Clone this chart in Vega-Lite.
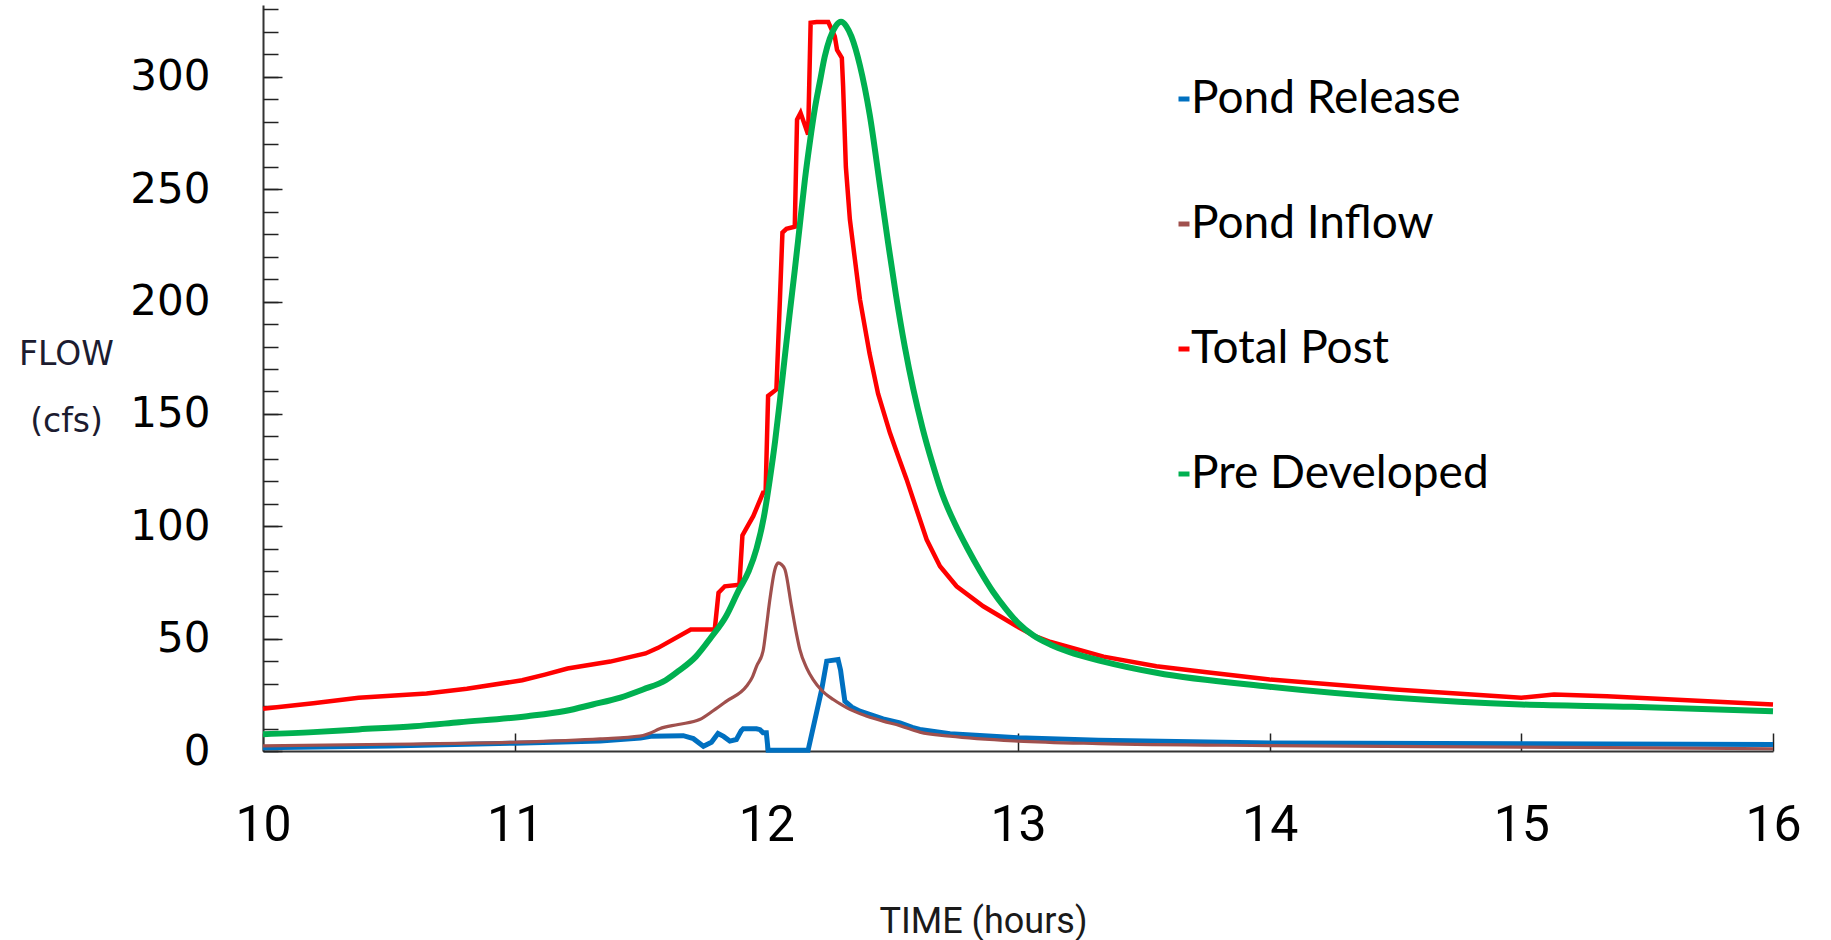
{
  "$schema": "https://vega.github.io/schema/vega-lite/v6.json",
  "width": 1510,
  "height": 746,
  "autosize": "none",
  "padding": {"left": 263, "top": 5, "right": 58, "bottom": 189},
  "background": "white",
  "config": {"view": {"stroke": null}},
  "data": {"values": [
    {"series":"Pond Release","time":10.0,"flow":1.5},
    {"series":"Pond Release","time":10.5,"flow":2.2},
    {"series":"Pond Release","time":11.0,"flow":3.5},
    {"series":"Pond Release","time":11.34,"flow":4.4},
    {"series":"Pond Release","time":11.5,"flow":5.8},
    {"series":"Pond Release","time":11.54,"flow":6.6},
    {"series":"Pond Release","time":11.67,"flow":6.8},
    {"series":"Pond Release","time":11.71,"flow":5.5},
    {"series":"Pond Release","time":11.75,"flow":2.1},
    {"series":"Pond Release","time":11.782,"flow":3.9},
    {"series":"Pond Release","time":11.808,"flow":7.8},
    {"series":"Pond Release","time":11.83,"flow":6.5},
    {"series":"Pond Release","time":11.855,"flow":4.4},
    {"series":"Pond Release","time":11.881,"flow":5.1},
    {"series":"Pond Release","time":11.9,"flow":9.0},
    {"series":"Pond Release","time":11.908,"flow":9.9},
    {"series":"Pond Release","time":11.961,"flow":9.9},
    {"series":"Pond Release","time":11.975,"flow":9.5},
    {"series":"Pond Release","time":11.987,"flow":8.1},
    {"series":"Pond Release","time":12.0,"flow":8.1},
    {"series":"Pond Release","time":12.007,"flow":0.3},
    {"series":"Pond Release","time":12.166,"flow":0.3},
    {"series":"Pond Release","time":12.22,"flow":27.4},
    {"series":"Pond Release","time":12.24,"flow":40.0},
    {"series":"Pond Release","time":12.285,"flow":40.7},
    {"series":"Pond Release","time":12.295,"flow":36.0},
    {"series":"Pond Release","time":12.3,"flow":31.8},
    {"series":"Pond Release","time":12.312,"flow":22.2},
    {"series":"Pond Release","time":12.34,"flow":19.5},
    {"series":"Pond Release","time":12.372,"flow":17.7},
    {"series":"Pond Release","time":12.464,"flow":14.3},
    {"series":"Pond Release","time":12.531,"flow":12.5},
    {"series":"Pond Release","time":12.58,"flow":10.5},
    {"series":"Pond Release","time":12.61,"flow":9.6},
    {"series":"Pond Release","time":12.73,"flow":7.7},
    {"series":"Pond Release","time":13.0,"flow":5.9},
    {"series":"Pond Release","time":13.32,"flow":4.8},
    {"series":"Pond Release","time":14.0,"flow":3.6},
    {"series":"Pond Release","time":15.0,"flow":3.2},
    {"series":"Pond Release","time":16.0,"flow":2.9},

    {"series":"Pond Inflow","time":10.0,"flow":2.3},
    {"series":"Pond Inflow","time":10.5,"flow":3.0},
    {"series":"Pond Inflow","time":11.0,"flow":3.9},
    {"series":"Pond Inflow","time":11.34,"flow":5.4},
    {"series":"Pond Inflow","time":11.497,"flow":6.6},
    {"series":"Pond Inflow","time":11.54,"flow":8.0},
    {"series":"Pond Inflow","time":11.576,"flow":9.9},
    {"series":"Pond Inflow","time":11.65,"flow":11.8},
    {"series":"Pond Inflow","time":11.735,"flow":14.0},
    {"series":"Pond Inflow","time":11.79,"flow":18.0},
    {"series":"Pond Inflow","time":11.842,"flow":22.2},
    {"series":"Pond Inflow","time":11.921,"flow":28.8},
    {"series":"Pond Inflow","time":11.945,"flow":33.0},
    {"series":"Pond Inflow","time":11.961,"flow":37.7},
    {"series":"Pond Inflow","time":11.987,"flow":44.5},
    {"series":"Pond Inflow","time":12.0,"flow":55.0},
    {"series":"Pond Inflow","time":12.014,"flow":67.4},
    {"series":"Pond Inflow","time":12.034,"flow":80.8},
    {"series":"Pond Inflow","time":12.047,"flow":83.7},
    {"series":"Pond Inflow","time":12.06,"flow":83.0},
    {"series":"Pond Inflow","time":12.074,"flow":80.8},
    {"series":"Pond Inflow","time":12.1,"flow":64.4},
    {"series":"Pond Inflow","time":12.12,"flow":52.0},
    {"series":"Pond Inflow","time":12.133,"flow":45.2},
    {"series":"Pond Inflow","time":12.16,"flow":37.0},
    {"series":"Pond Inflow","time":12.186,"flow":31.8},
    {"series":"Pond Inflow","time":12.22,"flow":27.0},
    {"series":"Pond Inflow","time":12.266,"flow":22.9},
    {"series":"Pond Inflow","time":12.3,"flow":20.5},
    {"series":"Pond Inflow","time":12.332,"flow":18.5},
    {"series":"Pond Inflow","time":12.4,"flow":15.5},
    {"series":"Pond Inflow","time":12.464,"flow":13.3},
    {"series":"Pond Inflow","time":12.531,"flow":11.3},
    {"series":"Pond Inflow","time":12.61,"flow":8.4},
    {"series":"Pond Inflow","time":12.73,"flow":6.6},
    {"series":"Pond Inflow","time":13.0,"flow":4.4},
    {"series":"Pond Inflow","time":13.32,"flow":3.3},
    {"series":"Pond Inflow","time":14.0,"flow":2.4},
    {"series":"Pond Inflow","time":15.0,"flow":1.7},
    {"series":"Pond Inflow","time":16.0,"flow":1.0},

    {"series":"Total Post","time":10.0,"flow":18.8},
    {"series":"Total Post","time":10.2,"flow":21.3},
    {"series":"Total Post","time":10.38,"flow":23.7},
    {"series":"Total Post","time":10.65,"flow":25.6},
    {"series":"Total Post","time":10.81,"flow":27.7},
    {"series":"Total Post","time":11.03,"flow":31.5},
    {"series":"Total Post","time":11.12,"flow":34.0},
    {"series":"Total Post","time":11.21,"flow":36.7},
    {"series":"Total Post","time":11.38,"flow":39.8},
    {"series":"Total Post","time":11.52,"flow":43.4},
    {"series":"Total Post","time":11.57,"flow":45.9},
    {"series":"Total Post","time":11.7,"flow":54.1},
    {"series":"Total Post","time":11.795,"flow":54.1},
    {"series":"Total Post","time":11.81,"flow":70.4},
    {"series":"Total Post","time":11.835,"flow":73.3},
    {"series":"Total Post","time":11.893,"flow":74.0},
    {"series":"Total Post","time":11.905,"flow":96.0},
    {"series":"Total Post","time":11.92,"flow":99.0},
    {"series":"Total Post","time":11.948,"flow":104.5},
    {"series":"Total Post","time":11.987,"flow":114.9},
    {"series":"Total Post","time":11.997,"flow":114.9},
    {"series":"Total Post","time":12.007,"flow":158.0},
    {"series":"Total Post","time":12.04,"flow":160.9},
    {"series":"Total Post","time":12.054,"flow":201.0},
    {"series":"Total Post","time":12.064,"flow":230.7},
    {"series":"Total Post","time":12.08,"flow":232.4},
    {"series":"Total Post","time":12.113,"flow":233.3},
    {"series":"Total Post","time":12.122,"flow":281.0},
    {"series":"Total Post","time":12.136,"flow":284.0},
    {"series":"Total Post","time":12.166,"flow":274.4},
    {"series":"Total Post","time":12.176,"flow":324.1},
    {"series":"Total Post","time":12.2,"flow":324.4},
    {"series":"Total Post","time":12.246,"flow":324.4},
    {"series":"Total Post","time":12.272,"flow":318.0},
    {"series":"Total Post","time":12.281,"flow":312.0},
    {"series":"Total Post","time":12.3,"flow":308.5},
    {"series":"Total Post","time":12.305,"flow":296.0},
    {"series":"Total Post","time":12.316,"flow":260.0},
    {"series":"Total Post","time":12.332,"flow":236.5},
    {"series":"Total Post","time":12.352,"flow":218.7},
    {"series":"Total Post","time":12.372,"flow":201.0},
    {"series":"Total Post","time":12.41,"flow":177.0},
    {"series":"Total Post","time":12.444,"flow":159.0},
    {"series":"Total Post","time":12.491,"flow":141.6},
    {"series":"Total Post","time":12.524,"flow":131.2},
    {"series":"Total Post","time":12.557,"flow":121.0},
    {"series":"Total Post","time":12.597,"flow":107.5},
    {"series":"Total Post","time":12.637,"flow":94.1},
    {"series":"Total Post","time":12.69,"flow":82.2},
    {"series":"Total Post","time":12.756,"flow":73.3},
    {"series":"Total Post","time":12.862,"flow":64.4},
    {"series":"Total Post","time":12.995,"flow":55.5},
    {"series":"Total Post","time":13.06,"flow":51.5},
    {"series":"Total Post","time":13.13,"flow":48.5},
    {"series":"Total Post","time":13.34,"flow":42.0},
    {"series":"Total Post","time":13.55,"flow":37.7},
    {"series":"Total Post","time":13.75,"flow":35.0},
    {"series":"Total Post","time":14.0,"flow":31.8},
    {"series":"Total Post","time":14.5,"flow":27.4},
    {"series":"Total Post","time":15.0,"flow":23.7},
    {"series":"Total Post","time":15.13,"flow":25.1},
    {"series":"Total Post","time":15.34,"flow":24.4},
    {"series":"Total Post","time":15.66,"flow":22.6},
    {"series":"Total Post","time":16.0,"flow":20.7},

    {"series":"Pre Developed","time":10.0,"flow":7.5},
    {"series":"Pre Developed","time":10.2,"flow":8.4},
    {"series":"Pre Developed","time":10.38,"flow":9.6},
    {"series":"Pre Developed","time":10.6,"flow":11.0},
    {"series":"Pre Developed","time":10.78,"flow":12.8},
    {"series":"Pre Developed","time":11.05,"flow":15.5},
    {"series":"Pre Developed","time":11.2,"flow":17.8},
    {"series":"Pre Developed","time":11.31,"flow":20.7},
    {"series":"Pre Developed","time":11.42,"flow":23.8},
    {"series":"Pre Developed","time":11.51,"flow":27.4},
    {"series":"Pre Developed","time":11.6,"flow":31.5},
    {"series":"Pre Developed","time":11.65,"flow":35.5},
    {"series":"Pre Developed","time":11.72,"flow":42.0},
    {"series":"Pre Developed","time":11.78,"flow":50.5},
    {"series":"Pre Developed","time":11.84,"flow":60.0},
    {"series":"Pre Developed","time":11.89,"flow":71.5},
    {"series":"Pre Developed","time":11.93,"flow":80.0},
    {"series":"Pre Developed","time":11.961,"flow":90.0},
    {"series":"Pre Developed","time":11.99,"flow":104.0},
    {"series":"Pre Developed","time":12.014,"flow":121.0},
    {"series":"Pre Developed","time":12.035,"flow":138.0},
    {"series":"Pre Developed","time":12.054,"flow":156.0},
    {"series":"Pre Developed","time":12.072,"flow":174.0},
    {"series":"Pre Developed","time":12.092,"flow":194.0},
    {"series":"Pre Developed","time":12.113,"flow":214.0},
    {"series":"Pre Developed","time":12.133,"flow":234.0},
    {"series":"Pre Developed","time":12.153,"flow":254.0},
    {"series":"Pre Developed","time":12.173,"flow":271.0},
    {"series":"Pre Developed","time":12.193,"flow":286.0},
    {"series":"Pre Developed","time":12.213,"flow":298.0},
    {"series":"Pre Developed","time":12.232,"flow":309.0},
    {"series":"Pre Developed","time":12.252,"flow":317.0},
    {"series":"Pre Developed","time":12.275,"flow":322.5},
    {"series":"Pre Developed","time":12.297,"flow":324.5},
    {"series":"Pre Developed","time":12.318,"flow":322.5},
    {"series":"Pre Developed","time":12.338,"flow":318.0},
    {"series":"Pre Developed","time":12.372,"flow":305.0},
    {"series":"Pre Developed","time":12.411,"flow":283.0},
    {"series":"Pre Developed","time":12.451,"flow":252.0},
    {"series":"Pre Developed","time":12.484,"flow":226.0},
    {"series":"Pre Developed","time":12.515,"flow":203.0},
    {"series":"Pre Developed","time":12.55,"flow":180.0},
    {"series":"Pre Developed","time":12.584,"flow":161.0},
    {"series":"Pre Developed","time":12.62,"flow":144.0},
    {"series":"Pre Developed","time":12.66,"flow":128.0},
    {"series":"Pre Developed","time":12.70,"flow":114.0},
    {"series":"Pre Developed","time":12.75,"flow":101.0},
    {"series":"Pre Developed","time":12.80,"flow":90.0},
    {"series":"Pre Developed","time":12.85,"flow":80.0},
    {"series":"Pre Developed","time":12.90,"flow":71.0},
    {"series":"Pre Developed","time":12.95,"flow":63.5},
    {"series":"Pre Developed","time":13.0,"flow":57.0},
    {"series":"Pre Developed","time":13.06,"flow":51.5},
    {"series":"Pre Developed","time":13.13,"flow":47.3},
    {"series":"Pre Developed","time":13.2,"flow":44.2},
    {"series":"Pre Developed","time":13.34,"flow":39.8},
    {"series":"Pre Developed","time":13.55,"flow":34.8},
    {"series":"Pre Developed","time":14.0,"flow":28.6},
    {"series":"Pre Developed","time":14.5,"flow":23.7},
    {"series":"Pre Developed","time":15.0,"flow":20.7},
    {"series":"Pre Developed","time":15.44,"flow":19.7},
    {"series":"Pre Developed","time":16.0,"flow":17.7}
  ]},
  "encoding": {
    "x": {
      "field": "time", "type": "quantitative",
      "scale": {"domain": [10, 16], "nice": false, "zero": false},
      "axis": {
        "values": [10, 11, 12, 13, 14, 15, 16],
        "grid": false,
        "tickSize": -18, "tickWidth": 1.5, "tickColor": "#222",
        "domainColor": "#333", "domainWidth": 2,
        "labelFont": "Liberation Sans Narrow, Roboto", "labelFontSize": 50, "labelColor": "#000",
        "labelBaseline": "middle", "labelPadding": 92, "labelFlush": false,
        "title": "TIME (hours)", "titleFont": "Liberation Sans Narrow, Roboto", "titleFontSize": 36,
        "titleFontWeight": "normal", "titleColor": "#1a1a1a",
        "titleX": 720, "titleY": 170, "titleBaseline": "middle", "titleAnchor": "start", "titleAlign": "center"
      }
    }
  },
  "layer": [
    {
      "transform": [{"filter": "datum.series === 'Pond Release'"}],
      "mark": {"type": "line", "strokeWidth": 5, "interpolate": "linear"},
      "encoding": {
        "y": {
          "field": "flow", "type": "quantitative",
          "scale": {"domain": [0, 332], "nice": false},
          "axis": {
            "orient": "left",
            "values": [0, 50, 100, 150, 200, 250, 300],
            "grid": false,
            "tickSize": -19, "tickWidth": 1.5, "tickColor": "#222",
            "domainColor": "#333", "domainWidth": 2,
            "labelFont": "DejaVu Sans", "labelFontSize": 42, "labelColor": "#000",
            "labelBaseline": "middle", "labelPadding": 72, "labelFlush": false,
            "title": ["FLOW", "(cfs)"], "titleAngle": 0, "titleFont": "DejaVu Sans", "titleFontSize": 33,
            "titleFontWeight": "normal", "titleColor": "#1c1c30", "titleLineHeight": 67,
            "titleX": -197, "titleY": 359, "titleAlign": "center", "titleBaseline": "alphabetic", "titleAnchor": "start"
          }
        },
        "color": {
          "field": "series", "type": "nominal",
          "scale": {"domain": ["Pond Release", "Pond Inflow", "Total Post", "Pre Developed"],
                    "range": ["#0070C0", "#A0504D", "#FF0000", "#00B050"]},
          "legend": {
            "orient": "none", "legendX": 898, "legendY": 71, "title": null,
            "symbolType": "stroke", "symbolStrokeWidth": 5, "symbolSize": 121,
            "labelFont": "Lato", "labelFontSize": 46, "labelColor": "#000", "labelLimit": 500,
            "labelOffset": -16, "rowPadding": 79, "padding": 0
          }
        }
      }
    },
    {
      "transform": [{"filter": "datum.series === 'Pond Inflow'"}],
      "mark": {"type": "line", "strokeWidth": 3.2, "interpolate": "monotone"},
      "encoding": {
        "y": {"field": "flow", "type": "quantitative", "scale": {"domain": [0, 332], "nice": false}, "axis": null},
        "color": {"field": "series", "type": "nominal"}
      }
    },
    {
      "transform": [{"filter": "datum.series === 'Total Post'"}],
      "mark": {"type": "line", "strokeWidth": 4.5, "interpolate": "linear"},
      "encoding": {
        "y": {"field": "flow", "type": "quantitative", "scale": {"domain": [0, 332], "nice": false}, "axis": null},
        "color": {"field": "series", "type": "nominal"}
      }
    },
    {
      "transform": [{"filter": "datum.series === 'Pre Developed'"}],
      "mark": {"type": "line", "strokeWidth": 6, "interpolate": "monotone"},
      "encoding": {
        "y": {"field": "flow", "type": "quantitative", "scale": {"domain": [0, 332], "nice": false}, "axis": null},
        "color": {"field": "series", "type": "nominal"}
      }
    },
    {
      "mark": {"type": "point", "opacity": 0},
      "encoding": {
        "y": {
          "field": "flow", "type": "quantitative", "scale": {"domain": [0, 332], "nice": false},
          "axis": {
            "orient": "left",
            "values": [0, 10, 20, 30, 40, 50, 60, 70, 80, 90, 100, 110, 120, 130, 140, 150, 160, 170, 180, 190, 200, 210, 220, 230, 240, 250, 260, 270, 280, 290, 300, 310, 320, 330],
            "grid": false, "labels": false, "domain": false, "title": null,
            "tickSize": -15, "tickWidth": 1.5, "tickColor": "#222"
          }
        }
      }
    }
  ],
  "resolve": {"axis": {"y": "independent"}}
}
